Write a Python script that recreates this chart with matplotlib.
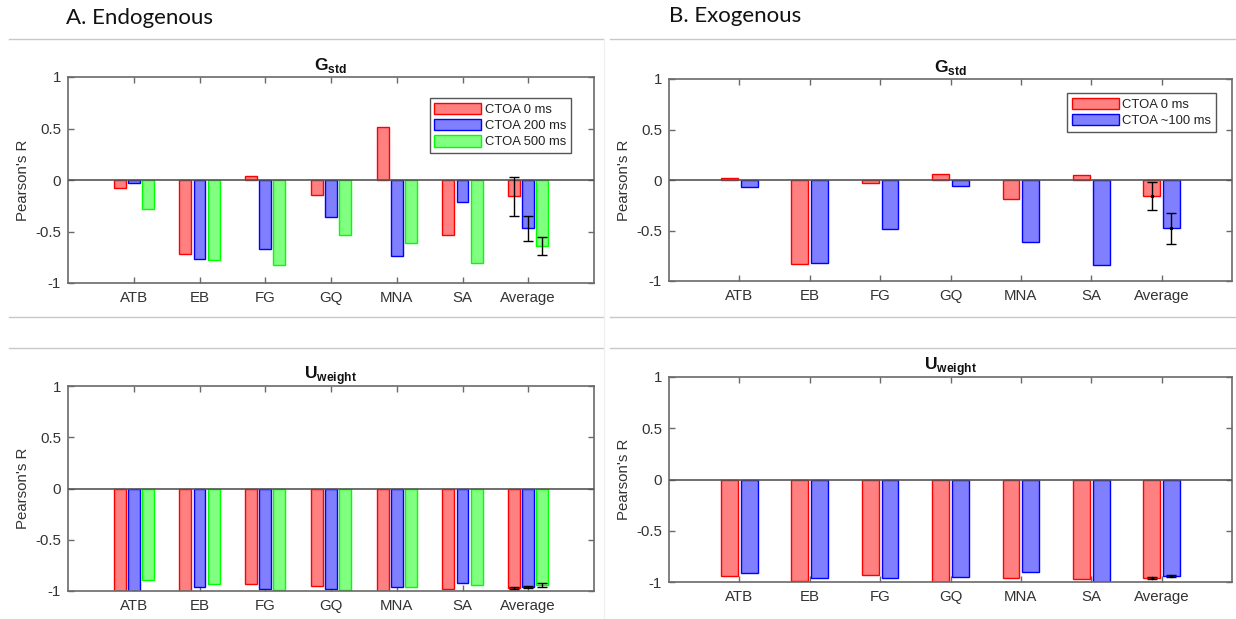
import matplotlib
matplotlib.use("Agg")
import matplotlib.pyplot as plt
from matplotlib.lines import Line2D
import numpy as np

plt.rcParams['font.family'] = ['Liberation Sans', 'DejaVu Sans']
plt.rcParams['mathtext.fontset'] = 'custom'
plt.rcParams['mathtext.rm'] = 'Liberation Sans'
plt.rcParams['mathtext.bf'] = 'Liberation Sans:bold'

# ---------------- data ----------------
categories = ["ATB", "EB", "FG", "GQ", "MNA", "SA", "Average"]

endo_g_0 = [-0.08, -0.72, 0.04, -0.15, 0.51, -0.53, -0.16]
endo_g_200 = [-0.03, -0.77, -0.67, -0.36, -0.74, -0.21, -0.47]
endo_g_500 = [-0.28, -0.78, -0.83, -0.53, -0.61, -0.81, -0.64]
endo_g_err = [0.185, 0.12, 0.09]

exo_g_0 = [0.02, -0.83, -0.03, 0.06, -0.19, 0.05, -0.16]
exo_g_100 = [-0.07, -0.82, -0.49, -0.06, -0.61, -0.84, -0.48]
exo_g_err = [0.14, 0.15]

endo_u_0 = [-1.0, -1.0, -0.93, -0.95, -1.0, -0.98, -0.97]
endo_u_200 = [-1.0, -0.96, -0.98, -0.98, -0.96, -0.92, -0.96]
endo_u_500 = [-0.89, -0.93, -0.99, -0.99, -0.96, -0.94, -0.94]
endo_u_err = [0.01, 0.01, 0.02]

exo_u_0 = [-0.94, -0.99, -0.93, -1.0, -0.96, -0.97, -0.96]
exo_u_100 = [-0.91, -0.96, -0.96, -0.95, -0.90, -1.0, -0.94]
exo_u_err = [0.01, 0.01]

endo_labels = ["CTOA 0 ms", "CTOA 200 ms", "CTOA 500 ms"]
exo_labels = ["CTOA 0 ms", "CTOA ~100 ms"]

yticks = [-1, -0.5, 0, 0.5, 1]
ytick_labels = ["-1", "-0.5", "0", "0.5", "1"]

face = ["#ff8080", "#8080ff", "#80ff80"]
edge = ["#ff0000", "#0000ff", "#00ff00"]

W, H = 1236, 619
fig = plt.figure(figsize=(W / 100, H / 100), dpi=100)


def px_axes(x0, y0, x1, y1):
    return fig.add_axes([x0 / W, 1 - y1 / H, (x1 - x0) / W, (y1 - y0) / H])


AX_COL = "#6a6a6a"
TXT_COL = "#333333"


def style_axes(ax, title):
    ax.set_xlim(0, 8)
    ax.set_ylim(-1, 1)
    ax.set_xticks(np.arange(1, len(categories) + 1))
    ax.set_xticklabels(categories)
    ax.set_yticks(yticks)
    ax.set_yticklabels(ytick_labels)
    ax.tick_params(direction="in", length=4, width=1, colors=AX_COL,
                   labelcolor=TXT_COL, labelsize=10.8, top=True, right=True)
    ax.tick_params(axis="x", pad=6)
    ax.tick_params(axis="y", pad=5)
    for s in ax.spines.values():
        s.set_color(AX_COL)
        s.set_linewidth(1.2)
    ax.axhline(0, color="#555555", lw=1.2, zorder=3)
    ax.set_ylabel("Pearson's R", fontsize=10.8, color=TXT_COL, labelpad=4)
    ax.set_title(title, fontsize=12.5, color="#111111", pad=5)


def draw_bars(ax, series, offsets, width, errs, dot):
    x = np.arange(1, len(categories) + 1)
    for i, vals in enumerate(series):
        ax.bar(x + offsets[i], vals, width=width, color=face[i],
               edgecolor=edge[i], linewidth=1.0, zorder=2)
        ax.errorbar(x[-1] + offsets[i], vals[-1], yerr=errs[i],
                    fmt="." if dot else "none", color="black", ms=3,
                    ecolor="black", elinewidth=1, capsize=3.5, capthick=1,
                    zorder=4)


def legend(ax, labels, anchor_px):
    from matplotlib.patches import Patch
    handles = [Patch(facecolor=face[i], edgecolor=edge[i], linewidth=1)
               for i in range(len(labels))]
    leg = ax.legend(handles, labels, loc="upper right",
                    bbox_to_anchor=(anchor_px[0] / W, 1 - anchor_px[1] / H),
                    bbox_transform=fig.transFigure, fontsize=9.4,
                    handlelength=3.6, handleheight=1.0, handletextpad=0.3,
                    labelspacing=0.22, borderpad=0.35, borderaxespad=0,
                    fancybox=False, framealpha=1, edgecolor="#555555")
    leg.get_frame().set_linewidth(1)
    for t in leg.get_texts():
        t.set_color("#222222")


g_title = r"$\mathbf{G}_{\mathbf{std}}$"
u_title = r"$\mathbf{U}_{\mathbf{weight}}$"

# Top-left
ax1 = px_axes(68, 77, 594, 283)
style_axes(ax1, g_title)
draw_bars(ax1, [endo_g_0, endo_g_200, endo_g_500], [-0.215, 0, 0.215], 0.18,
          endo_g_err, False)
legend(ax1, endo_labels, (571, 98))

# Top-right
ax2 = px_axes(669, 79, 1232, 281)
style_axes(ax2, g_title)
draw_bars(ax2, [exo_g_0, exo_g_100], [-0.14, 0.14], 0.24, exo_g_err, True)
legend(ax2, exo_labels, (1216, 93))

# Bottom-left
ax3 = px_axes(68, 386, 594, 591)
style_axes(ax3, u_title)
draw_bars(ax3, [endo_u_0, endo_u_200, endo_u_500], [-0.215, 0, 0.215], 0.18,
          endo_u_err, False)

# Bottom-right
ax4 = px_axes(669, 377, 1232, 582)
style_axes(ax4, u_title)
draw_bars(ax4, [exo_u_0, exo_u_100], [-0.14, 0.14], 0.24, exo_u_err, True)

# panel headings
fig.text(66 / W, 1 - 18 / H, "A. Endogenous", fontsize=16, family="Lato",
         color="#111111", va="center", ha="left")
fig.text(669 / W, 1 - 16 / H, "B. Exogenous", fontsize=16, family="Lato",
         color="#111111", va="center", ha="left")

# separator lines
SEP = "#c8c8c8"
for y in (39, 317, 348):
    fig.add_artist(Line2D([9 / W, 603 / W], [1 - y / H, 1 - y / H],
                          color=SEP, lw=1))
    fig.add_artist(Line2D([610 / W, 1 - 0 / W], [1 - y / H, 1 - y / H],
                          color=SEP, lw=1))
fig.add_artist(Line2D([604 / W, 604 / W], [1 - 39 / H, 0], color="#f0f0f0",
                      lw=1))

fig.savefig("out.png", dpi=100)
